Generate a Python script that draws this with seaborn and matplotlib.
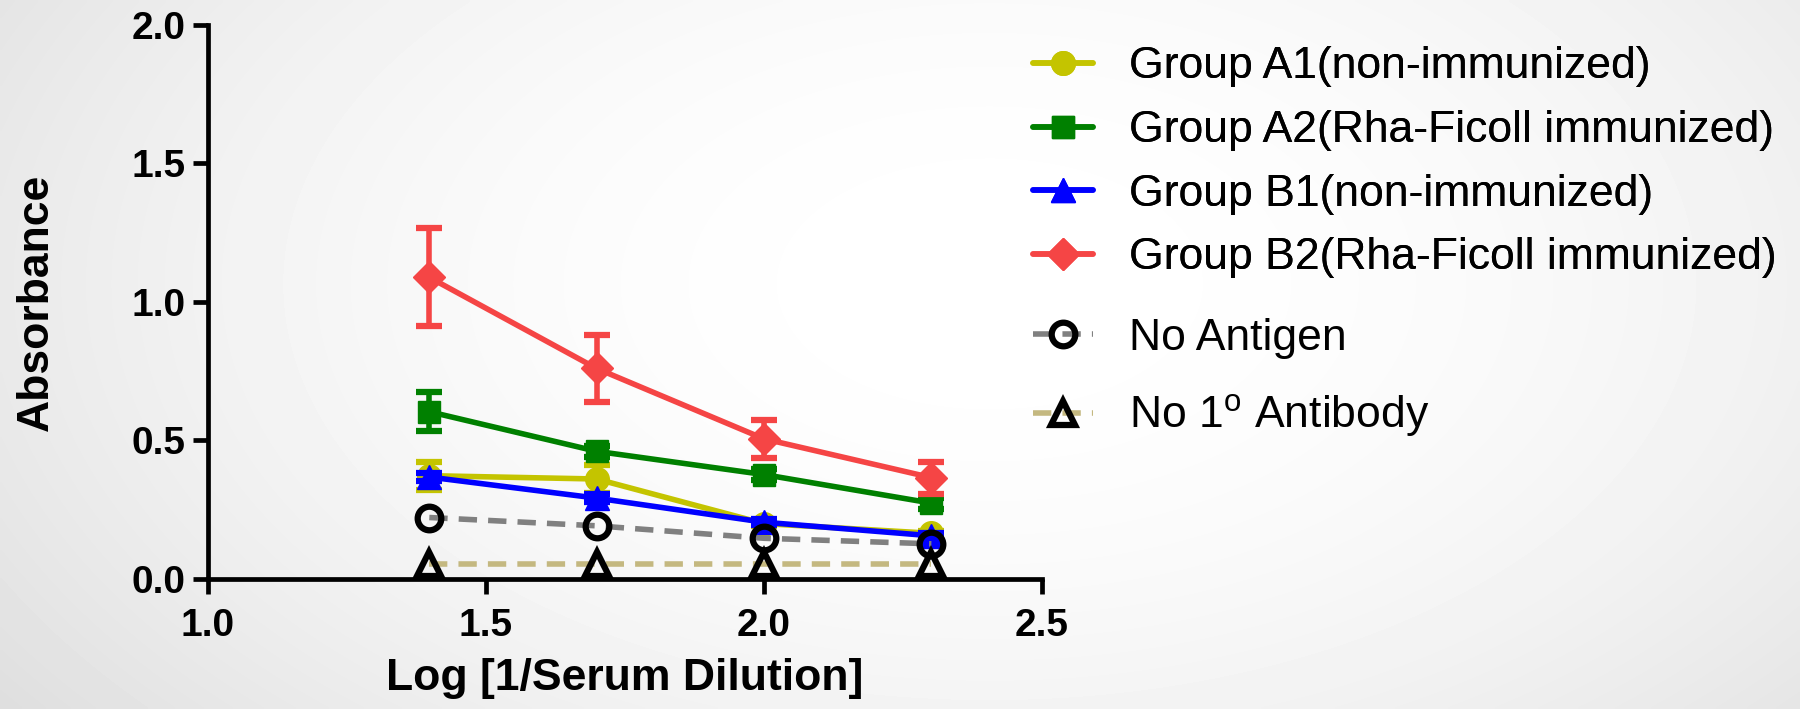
import numpy as np
import pandas as pd
import matplotlib
matplotlib.use("Agg")
import matplotlib.pyplot as plt
from matplotlib.lines import Line2D
import seaborn as sns

# ---------------- data ----------------
log_dilution = [1.398, 1.699, 2.000, 2.301]
groups = ["Group A1(non-immunized)", "Group A2(Rha-Ficoll immunized)",
          "Group B1(non-immunized)", "Group B2(Rha-Ficoll immunized)",
          "No Antigen", "No 1$^{\\mathrm{o}}$ Antibody"]
a1_mean = [0.373, 0.361, 0.200, 0.165]
a1_err = [0.050, 0.050, 0.010, 0.010]
a2_mean = [0.604, 0.461, 0.377, 0.274]
a2_err = [0.070, 0.020, 0.020, 0.020]
b1_mean = [0.368, 0.292, 0.205, 0.156]
b1_err = [0.015, 0.015, 0.010, 0.010]
b2_mean = [1.089, 0.760, 0.506, 0.366]
b2_err = [0.177, 0.120, 0.068, 0.058]
no_antigen = [0.222, 0.192, 0.147, 0.127]
no_antibody = [0.053, 0.053, 0.053, 0.053]
x_ticks = [1.0, 1.5, 2.0, 2.5]
y_ticks = [0.0, 0.5, 1.0, 1.5, 2.0]

means = [a1_mean, a2_mean, b1_mean, b2_mean, no_antigen, no_antibody]
errs = [a1_err, a2_err, b1_err, b2_err, None, None]

# ---------------- style ----------------
sns.set_theme(style="white")
plt.rcParams["font.family"] = ["Liberation Sans", "DejaVu Sans"]
plt.rcParams["mathtext.fontset"] = "custom"
plt.rcParams["mathtext.rm"] = "Liberation Sans"
plt.rcParams["mathtext.it"] = "Liberation Sans:italic"
plt.rcParams["mathtext.bf"] = "Liberation Sans:bold"
for k in ["text.color", "axes.labelcolor", "xtick.color", "ytick.color"]:
    plt.rcParams[k] = "black"

colors = ["#C4C400", "#008000", "#0000FF", "#F54545", "#808080", "#C4B880"]
markers = ["o", "s", "^", "D", "o", "^"]
msizes = [17, 16, 17, 16, 17, 17]
dash = (0, (3.3, 2.0))
lstyles = ["-", "-", "-", "-", dash, dash]
zorders = [3, 4, 5, 6, 7, 8]
LW = 4

fig = plt.figure(figsize=(18, 7.09), dpi=100)

# background vignette
bg = fig.add_axes([0, 0, 1, 1], zorder=-10)
H, W = 200, 500
yy, xx = np.mgrid[0:1:H * 1j, 0:1:W * 1j]
r2 = ((xx - 0.55) / 0.6) ** 2 + ((yy - 0.4) / 0.9) ** 2
val = np.clip(1 - 0.1 * r2, 0.86, 1.0)
bg.imshow(val, cmap="gray", vmin=0, vmax=1, aspect="auto",
          extent=[0, 1, 0, 1], origin="upper", interpolation="bilinear")
bg.set_axis_off()

ax = fig.add_axes([0.11556, 0.18336, 0.46333, 0.78138])
ax.set_facecolor("none")

handles = []
for i, g in enumerate(groups):
    df = pd.DataFrame({"x": log_dilution, "y": means[i]})
    open_marker = i >= 4
    mfc = "none" if open_marker else colors[i]
    mec = "black" if open_marker else colors[i]
    mew = 4.5 if open_marker else 1
    sns.lineplot(data=df, x="x", y="y", ax=ax, color=colors[i],
                 linewidth=LW, linestyle=lstyles[i], marker=markers[i],
                 markersize=msizes[i], markerfacecolor=mfc,
                 markeredgecolor=mec, markeredgewidth=mew,
                 errorbar=None, zorder=zorders[i], clip_on=False,
                 legend=False)
    if errs[i] is not None:
        ax.errorbar(log_dilution, means[i], yerr=errs[i], fmt="none",
                    ecolor=colors[i], elinewidth=LW, capsize=9.5,
                    capthick=4.5, zorder=zorders[i] - 0.5, clip_on=False)
    handles.append(Line2D([], [], color=colors[i], linewidth=LW,
                          linestyle=lstyles[i], marker=markers[i],
                          markersize=msizes[i], markerfacecolor=mfc,
                          markeredgecolor=mec, markeredgewidth=mew))

ax.set_xlim(1.0, 2.5)
ax.set_ylim(0.0, 2.0)
ax.set_xticks(x_ticks)
ax.set_yticks(y_ticks)
ax.set_xticklabels([f"{v:.1f}" for v in x_ticks], fontsize=28, fontweight="bold")
ax.set_yticklabels([f"{v:.1f}" for v in y_ticks], fontsize=28, fontweight="bold")
for s in ["top", "right"]:
    ax.spines[s].set_visible(False)
for s in ["left", "bottom"]:
    ax.spines[s].set_linewidth(3.4)
    ax.spines[s].set_color("black")
ax.tick_params(axis="both", direction="out", length=11, width=3.4,
               color="black", left=True, bottom=True)
ax.tick_params(axis="y", pad=5)
ax.tick_params(axis="x", pad=10)

ax.set_xlabel("Log [1/Serum Dilution]", fontsize=32, fontweight="bold")
ax.set_ylabel("Absorbance", fontsize=32, fontweight="bold")
ax.xaxis.set_label_coords(0.5, -0.1426)
ax.xaxis.label.set_va("top")
ax.yaxis.set_label_coords(-0.181, 0.5)

leg1 = fig.legend(handles[:4], groups[:4], loc="upper left",
                  bbox_to_anchor=(0.574, 0.9345), frameon=False,
                  fontsize=32, handlelength=1.35, handletextpad=0.8,
                  labelspacing=0.51, borderpad=0, borderaxespad=0)
leg2 = fig.legend(handles[4:], groups[4:], loc="upper left",
                  bbox_to_anchor=(0.574, 0.552), frameon=False,
                  fontsize=32, handlelength=1.35, handletextpad=0.8,
                  labelspacing=0.76, borderpad=0, borderaxespad=0)
fig.add_artist(leg1)

fig.savefig("out.png", dpi=100)
